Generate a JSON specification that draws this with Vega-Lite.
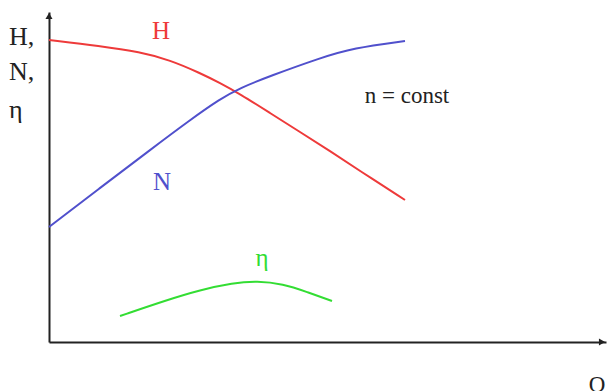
{
  "$schema": "https://vega.github.io/schema/vega-lite/v6.json",
  "width": 557,
  "height": 330,
  "padding": {"left": 49, "top": 12, "right": 2, "bottom": 49},
  "autosize": {"type": "none"},
  "background": "white",
  "config": {"view": {"stroke": null}},
  "datasets": {
    "curves": [
      {"series": "H", "q": 0, "v": 302},
      {"series": "H", "q": 51, "v": 296},
      {"series": "H", "q": 91, "v": 290},
      {"series": "H", "q": 121, "v": 282},
      {"series": "H", "q": 151, "v": 269},
      {"series": "H", "q": 171, "v": 259},
      {"series": "H", "q": 191, "v": 248},
      {"series": "H", "q": 221, "v": 229},
      {"series": "H", "q": 251, "v": 210},
      {"series": "H", "q": 281, "v": 191},
      {"series": "H", "q": 311, "v": 171},
      {"series": "H", "q": 356, "v": 142},
      {"series": "N", "q": 0, "v": 115},
      {"series": "N", "q": 51, "v": 154},
      {"series": "N", "q": 101, "v": 192},
      {"series": "N", "q": 141, "v": 222},
      {"series": "N", "q": 171, "v": 243},
      {"series": "N", "q": 191, "v": 254},
      {"series": "N", "q": 221, "v": 266},
      {"series": "N", "q": 271, "v": 284},
      {"series": "N", "q": 304, "v": 294},
      {"series": "N", "q": 356, "v": 301},
      {"series": "eta", "q": 71, "v": 26},
      {"series": "eta", "q": 118, "v": 42},
      {"series": "eta", "q": 151, "v": 52},
      {"series": "eta", "q": 184, "v": 59},
      {"series": "eta", "q": 208, "v": 61},
      {"series": "eta", "q": 234, "v": 58},
      {"series": "eta", "q": 258, "v": 50},
      {"series": "eta", "q": 283, "v": 41}
    ],
    "curveLabels": [
      {"series": "H", "text": "H", "q": 112, "v": 311},
      {"series": "N", "text": "N", "q": 113, "v": 160},
      {"series": "eta", "text": "η", "q": 213, "v": 84}
    ],
    "notes": [
      {"text": "n = const", "q": 358, "v": 246, "align": "center"},
      {"text": "H,", "q": -40, "v": 305, "align": "left"},
      {"text": "N,", "q": -40, "v": 270, "align": "left"},
      {"text": "η", "q": -40, "v": 232, "align": "left"},
      {"text": "Q", "q": 548, "v": -43, "align": "center"}
    ],
    "arrows": [
      {"q": 0, "v": 326, "dir": "up"},
      {"q": 553, "v": 0, "dir": "right"}
    ]
  },
  "layer": [
    {
      "data": {"name": "curves"},
      "mark": {"type": "line", "strokeWidth": 2, "interpolate": "basis", "clip": false},
      "encoding": {
        "x": {
          "field": "q", "type": "quantitative",
          "scale": {"domain": [0, 557], "nice": false, "zero": false},
          "axis": {"domain": true, "domainColor": "#222", "domainWidth": 2, "ticks": false, "labels": false, "grid": false, "title": null}
        },
        "y": {
          "field": "v", "type": "quantitative",
          "scale": {"domain": [0, 330], "nice": false, "zero": false},
          "axis": {"domain": true, "domainColor": "#222", "domainWidth": 2, "ticks": false, "labels": false, "grid": false, "title": null}
        },
        "color": {
          "field": "series", "type": "nominal",
          "scale": {"domain": ["H", "N", "eta"], "range": ["#ee3a3a", "#5050cc", "#33dd33"]},
          "legend": null
        },
        "detail": {"field": "series"}
      }
    },
    {
      "data": {"name": "curveLabels"},
      "mark": {"type": "text", "font": "'Liberation Serif', 'Times New Roman', serif", "fontSize": 25, "baseline": "middle", "align": "center", "clip": false},
      "encoding": {
        "x": {"field": "q", "type": "quantitative"},
        "y": {"field": "v", "type": "quantitative"},
        "text": {"field": "text"},
        "color": {"field": "series", "type": "nominal", "legend": null}
      }
    },
    {
      "data": {"name": "notes"},
      "transform": [{"filter": "datum.align == 'center'"}],
      "mark": {"type": "text", "font": "'Liberation Serif', 'Times New Roman', serif", "fontSize": 23, "baseline": "middle", "align": "center", "color": "#222", "clip": false},
      "encoding": {
        "x": {"field": "q", "type": "quantitative"},
        "y": {"field": "v", "type": "quantitative"},
        "text": {"field": "text"}
      }
    },
    {
      "data": {"name": "notes"},
      "transform": [{"filter": "datum.align == 'left'"}],
      "mark": {"type": "text", "font": "'Liberation Serif', 'Times New Roman', serif", "fontSize": 26, "baseline": "middle", "align": "left", "color": "#222", "clip": false},
      "encoding": {
        "x": {"field": "q", "type": "quantitative"},
        "y": {"field": "v", "type": "quantitative"},
        "text": {"field": "text"}
      }
    },
    {
      "data": {"name": "arrows"},
      "mark": {"type": "point", "filled": true, "color": "#222", "size": 50, "opacity": 1, "clip": false},
      "encoding": {
        "x": {"field": "q", "type": "quantitative"},
        "y": {"field": "v", "type": "quantitative"},
        "shape": {
          "field": "dir", "type": "nominal",
          "scale": {"domain": ["up", "right"], "range": ["triangle-up", "triangle-right"]},
          "legend": null
        }
      }
    }
  ]
}
